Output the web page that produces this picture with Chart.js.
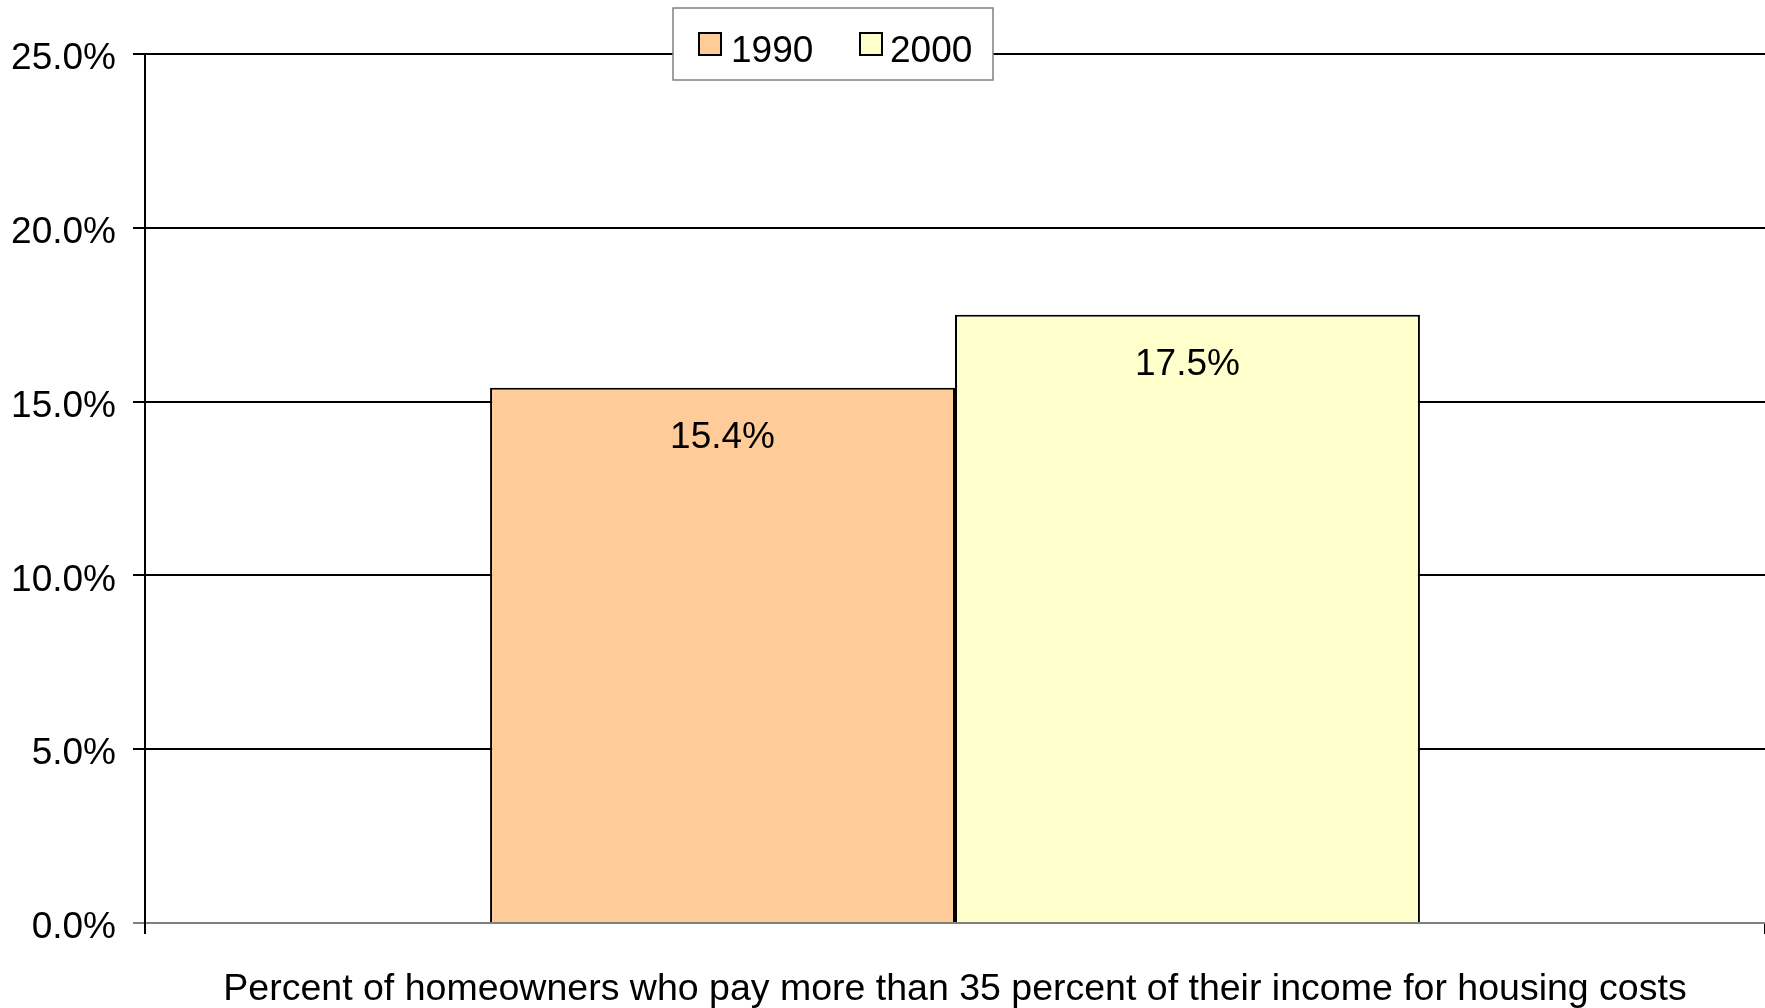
<!DOCTYPE html>
<html>
<head>
<meta charset="utf-8">
<script src="https://cdn.jsdelivr.net/npm/chart.js@4.4.1/dist/chart.umd.min.js"></script>
<style>
html,body{margin:0;padding:0;background:#fff;}
#wrap{width:1765px;height:1008px;position:relative;}
</style>
</head>
<body>
<div id="wrap"><canvas id="c" width="1765" height="1008"></canvas></div>
<script>
const categories = ['Percent of homeowners who pay more than 35 percent of their income for housing costs'];
const seriesLabels = ['1990', '2000'];
const values1990 = [15.4];
const values2000 = [17.5];
const yTicks = [0, 5, 10, 15, 20, 25];
const seriesColors = ['#FFCC99', '#FFFFCC'];

const FONT = '"Liberation Sans", Arial, sans-serif';

const valueLabels = {
  id: 'valueLabels',
  afterDatasetsDraw(chart) {
    const ctx = chart.ctx;
    ctx.save();
    ctx.font = '37px ' + FONT;
    ctx.fillStyle = '#000';
    ctx.textAlign = 'center';
    ctx.textBaseline = 'middle';
    chart.data.datasets.forEach((ds, i) => {
      chart.getDatasetMeta(i).data.forEach((bar, j) => {
        ctx.fillText(ds.data[j].toFixed(1) + '%', bar.x, bar.y + 50);
      });
    });
    ctx.restore();
  }
};

const boxLegend = {
  id: 'boxLegend',
  afterDraw(chart) {
    const ctx = chart.ctx;
    ctx.save();
    const bx = 673, by = 8, bw = 320, bh = 72;
    ctx.fillStyle = '#fff';
    ctx.fillRect(bx, by, bw, bh);
    ctx.strokeStyle = '#808080';
    ctx.lineWidth = 1.5;
    ctx.strokeRect(bx, by, bw, bh);
    ctx.font = '37px ' + FONT;
    ctx.textBaseline = 'middle';
    ctx.textAlign = 'left';
    const items = [{sx: 699, tx: 731}, {sx: 860, tx: 890}];
    chart.data.datasets.forEach((ds, i) => {
      const it = items[i];
      ctx.fillStyle = ds.backgroundColor;
      ctx.fillRect(it.sx, 33, 22, 22);
      ctx.strokeStyle = '#000';
      ctx.lineWidth = 2;
      ctx.strokeRect(it.sx, 33, 22, 22);
      ctx.fillStyle = '#000';
      ctx.fillText(ds.label, it.tx, 52);
    });
    ctx.restore();
  }
};

new Chart(document.getElementById('c'), {
  type: 'bar',
  data: {
    labels: categories,
    datasets: [
      {label: seriesLabels[0], data: values1990, backgroundColor: seriesColors[0], borderColor: '#000', borderWidth: 2},
      {label: seriesLabels[1], data: values2000, backgroundColor: seriesColors[1], borderColor: '#000', borderWidth: 2}
    ]
  },
  options: {
    responsive: false,
    animation: false,
    devicePixelRatio: 1,
    categoryPercentage: 0.574,
    barPercentage: 1.0,
    layout: {padding: {top: 54, left: 0, right: 0, bottom: 0}},
    plugins: {legend: {display: false}, tooltip: {enabled: false}},
    scales: {
      x: {
        ticks: {display: false},
        grid: {drawOnChartArea: false, drawTicks: true, tickLength: 11, color: '#000', lineWidth: 2},
        border: {display: true, color: '#808080', width: 2},
        title: {display: true, text: categories[0], color: '#000', font: {family: FONT, size: 37.5, lineHeight: 1.0}, padding: {top: 36.5, bottom: 0}},
        afterFit(s) { s.paddingLeft = 0; s.paddingRight = 0; }
      },
      y: {
        min: yTicks[0],
        max: yTicks[yTicks.length - 1],
        afterBuildTicks(s) { s.ticks = yTicks.map(v => ({value: v})); },
        ticks: {
          color: '#000',
          font: {family: FONT, size: 37},
          padding: 17,
          labelOffset: 5,
          callback: v => Number(v).toFixed(1) + '%'
        },
        grid: {color: ctx => (ctx.tick && ctx.tick.value === 0) ? '#808080' : '#000', lineWidth: 2, tickLength: 12, drawTicks: true},
        border: {display: true, color: '#000', width: 2},
        afterFit(s) { s.width = 145; s.paddingTop = 0; s.paddingBottom = 0; }
      }
    }
  },
  plugins: [valueLabels, boxLegend]
});
</script>
</body>
</html>
